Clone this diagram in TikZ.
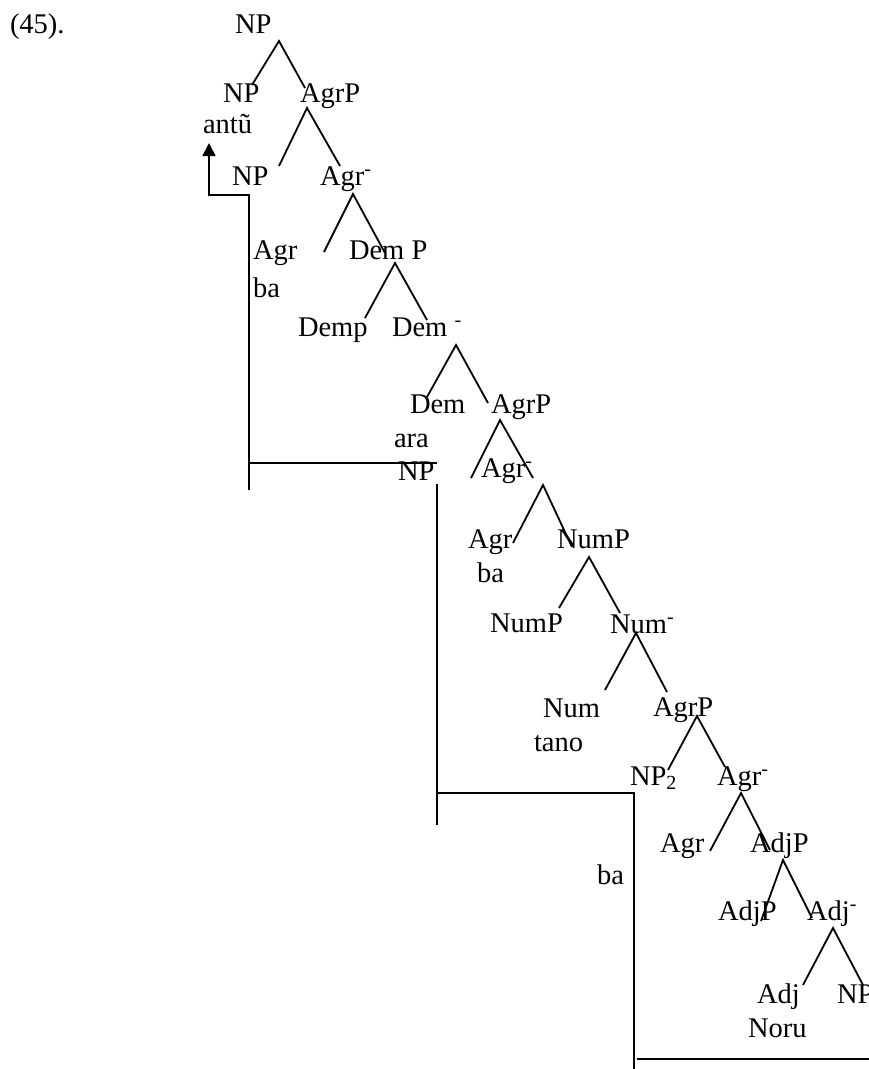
\documentclass[tikz,border=0pt]{standalone}
\usepackage{fontspec}
\setmainfont{Liberation Serif}
\usetikzlibrary{arrows.meta}
\newcommand\sbar{\textsuperscript{-}}
\begin{document}
\begin{tikzpicture}[x=1pt,y=-1pt,
  lbl/.style={anchor=base west,inner sep=0pt,outer sep=0pt,font=\fontsize{28.5}{32}\selectfont},
  branch/.style={line width=1.8pt},
  movepath/.style={line width=1.8pt},
  movetip/.style={-{Triangle[length=13pt,width=13pt]}}]
\useasboundingbox (0,0) rectangle (869,1069);
% labels
\node[lbl] (t45) at (10,33) {(45).};
\node[lbl] (np0) at (235,33) {NP};
\node[lbl] (np1) at (223,102) {NP};
\node[lbl] (agrp1) at (300,102) {AgrP};
\node[lbl] (antu) at (203,133) {antũ};
\node[lbl] (np2) at (232,185) {NP};
\node[lbl] (agrb1) at (320,185) {Agr\sbar};
\node[lbl] (agr1) at (253,259) {Agr};
\node[lbl] (ba1) at (253,297) {ba};
\node[lbl] (demP) at (349,259) {Dem P};
\node[lbl] (demp2) at (298,336) {Demp};
\node[lbl] (demb) at (392,336) {Dem \sbar};
\node[lbl] (dem) at (410,413) {Dem};
\node[lbl] (ara) at (394,447) {ara};
\node[lbl] (np3) at (398,480) {NP};
\node[lbl] (agrp2) at (491,413) {AgrP};
\node[lbl] (agrb2) at (481,477) {Agr\sbar};
\node[lbl] (agr2) at (468,548) {Agr};
\node[lbl] (ba2) at (477,582) {ba};
\node[lbl] (nump1) at (557,548) {NumP};
\node[lbl] (nump2) at (490,632) {NumP};
\node[lbl] (numb) at (610,633) {Num\sbar};
\node[lbl] (num) at (543,717) {Num};
\node[lbl] (tano) at (534,751) {tano};
\node[lbl] (agrp3) at (653,716) {AgrP};
\node[lbl] (np4) at (630,785) {NP\textsubscript{2}};
\node[lbl] (agrb3) at (717,785) {Agr\sbar};
\node[lbl] (agr3) at (660,852) {Agr};
\node[lbl] (adjp1) at (750,852) {AdjP};
\node[lbl] (adjp2) at (718,920) {AdjP};
\node[lbl] (adjb) at (807,920) {Adj\sbar};
\node[lbl] (adj) at (757,1003) {Adj};
\node[lbl] (np5) at (837,1003) {NP};
\node[lbl] (noru) at (748,1037) {Noru};
\node[lbl] (ba3) at (597,884) {ba};
% branch points
\coordinate (a0) at (279,41);  \coordinate (a0l) at (252,85);  \coordinate (a0r) at (305,88);
\coordinate (a1) at (307,108); \coordinate (a1l) at (279,166); \coordinate (a1r) at (340,166);
\coordinate (a2) at (353,194); \coordinate (a2l) at (324,252); \coordinate (a2r) at (385,253);
\coordinate (a3) at (395,263); \coordinate (a3l) at (365,318); \coordinate (a3r) at (427,320);
\coordinate (a4) at (456,345); \coordinate (a4l) at (427,397); \coordinate (a4r) at (488,403);
\coordinate (a5) at (500,420); \coordinate (a5l) at (471,478); \coordinate (a5r) at (533,478);
\coordinate (a6) at (543,485); \coordinate (a6l) at (513,543); \coordinate (a6r) at (572,547);
\coordinate (a7) at (589,557); \coordinate (a7l) at (559,608); \coordinate (a7r) at (620,613);
\coordinate (a8) at (636,633); \coordinate (a8l) at (605,690); \coordinate (a8r) at (667,692);
\coordinate (a9) at (697,716); \coordinate (a9l) at (668,770); \coordinate (a9r) at (725,767);
\coordinate (a10) at (741,793); \coordinate (a10l) at (710,851); \coordinate (a10r) at (770,850);
\coordinate (a11) at (783,860); \coordinate (a11l) at (761,921); \coordinate (a11r) at (812,918);
\coordinate (a12) at (833,928); \coordinate (a12l) at (803,985); \coordinate (a12r) at (863,985);
\foreach \i in {0,...,12} {
  \draw[branch] (a\i l) -- (a\i) -- (a\i r);
}
% movement lines
\coordinate (m1) at (249,490); \coordinate (m2) at (249,195);
\coordinate (m3) at (209,195); \coordinate (m4) at (209,143);
\draw[movepath,movetip] (m1) -- (m2) -- (m3) -- (m4);
\coordinate (m5) at (249,463); \coordinate (m6) at (437,463);
\draw[movepath] (m5) -- (m6);
\coordinate (m7) at (437,484); \coordinate (m8) at (437,825);
\draw[movepath] (m7) -- (m8);
\coordinate (m9) at (437,793); \coordinate (m10) at (634,793); \coordinate (m11) at (634,1069);
\draw[movepath] (m9) -- (m10) -- (m11);
\coordinate (m12) at (637,1059); \coordinate (m13) at (869,1059);
\draw[movepath] (m12) -- (m13);
\end{tikzpicture}
\end{document}
